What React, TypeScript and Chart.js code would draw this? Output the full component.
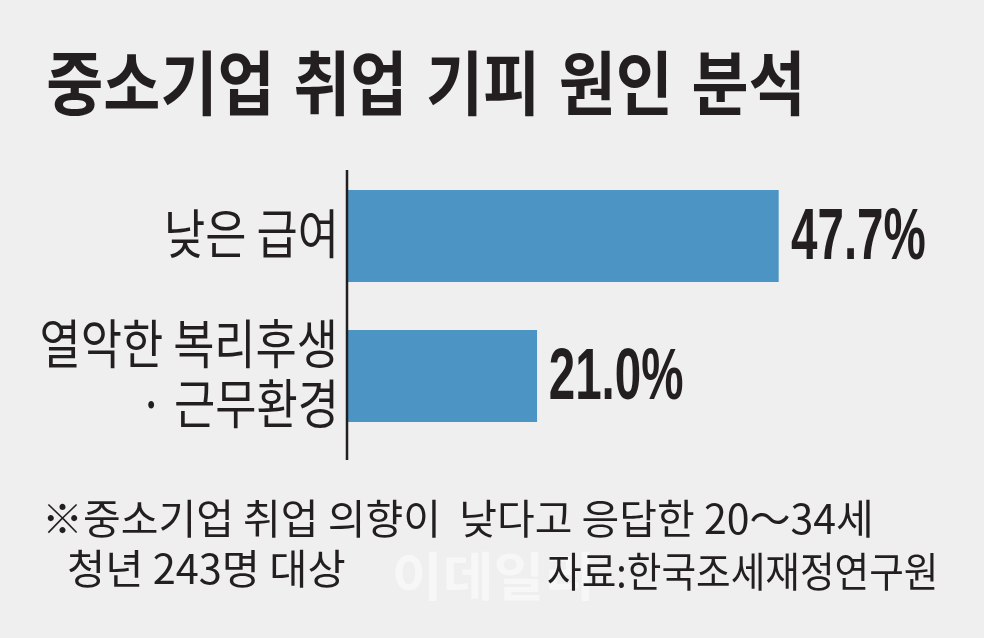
import { useEffect, useRef } from 'react';
import { Chart, registerables } from 'chart.js';

Chart.register(...registerables);

const TITLE = '중소기업 취업 기피 원인 분석';
const categories: (string | string[])[] = ['낮은 급여', ['열악한 복리후생', '· 근무환경']];
const shares = [47.7, 21.0];
const NOTE_LINE_1 = '※중소기업 취업 의향이  낮다고 응답한 20～34세';
const NOTE_LINE_2 = '청년 243명 대상';
const SOURCE = '자료:한국조세재정연구원';
const WATERMARK = '이데일리';

const INK = '#231f20';
const BAR = '#4b94c3';
const BG = '#efefef';
const KR = '"Noto Sans CJK KR", "Noto Sans", sans-serif';

// draws text squeezed horizontally so its ink spans [left, right]
function fitText(
  ctx: CanvasRenderingContext2D,
  text: string,
  left: number,
  right: number,
  y: number
) {
  const m = ctx.measureText(text);
  const ink = m.actualBoundingBoxLeft + m.actualBoundingBoxRight;
  const s = (right - left) / ink;
  ctx.save();
  ctx.translate(left, y);
  ctx.scale(s, 1);
  ctx.fillText(text, m.actualBoundingBoxLeft, 0);
  ctx.restore();
  return s;
}

const decorPlugin = {
  id: 'decor',
  beforeDraw(chart: Chart) {
    const { ctx, width, height } = chart;
    ctx.save();
    ctx.fillStyle = BG;
    ctx.fillRect(0, 0, width, height);
    ctx.restore();
  },
  afterDatasetsDraw(chart: Chart) {
    const { ctx, chartArea } = chart;
    const yScale = chart.scales.y;
    const meta = chart.getDatasetMeta(0);

    ctx.save();
    // axis line
    ctx.strokeStyle = INK;
    ctx.lineWidth = 2.5;
    ctx.beginPath();
    ctx.moveTo(chartArea.left, chartArea.top + 4);
    ctx.lineTo(chartArea.left, chartArea.bottom + 14);
    ctx.stroke();

    ctx.fillStyle = INK;
    ctx.textBaseline = 'middle';
    ctx.textAlign = 'left';

    // title
    ctx.font = `bold 70px ${KR}`;
    (ctx as any).wordSpacing = '5px';
    fitText(ctx, TITLE, 48, 800, 83);
    (ctx as any).wordSpacing = '0px';

    // category labels
    ctx.font = `53px ${KR}`;
    const ref = ctx.measureText('열악한 복리후생');
    const s = 292 / (ref.actualBoundingBoxLeft + ref.actualBoundingBoxRight);
    categories.forEach((cat, i) => {
      const lines = Array.isArray(cat) ? cat : [cat];
      const cy = yScale.getPixelForValue(i) - 2;
      lines.forEach((line, j) => {
        const ly = cy + (j - (lines.length - 1) / 2) * 60;
        const m = ctx.measureText(line);
        ctx.save();
        ctx.translate(chartArea.left - 13, ly);
        ctx.scale(s, 1);
        ctx.fillText(line, -m.actualBoundingBoxRight, 0);
        ctx.restore();
      });
    });

    // value labels
    ctx.font = 'bold 72px "Liberation Sans", Arial, sans-serif';
    ctx.textBaseline = 'alphabetic';
    meta.data.forEach((bar: any, i: number) => {
      const text = shares[i].toFixed(1) + '%';
      const m = ctx.measureText(text);
      ctx.save();
      ctx.translate(bar.x + 13, bar.y + 23);
      ctx.scale(0.66, 1);
      ctx.fillText(text, m.actualBoundingBoxLeft, 0);
      ctx.restore();
    });

    // footnotes
    ctx.textBaseline = 'middle';
    ctx.font = `41px ${KR}`;
    fitText(ctx, NOTE_LINE_1, 47, 870, 518);
    fitText(ctx, NOTE_LINE_2, 69, 345, 568);

    ctx.font = `bold 52px ${KR}`;
    ctx.fillStyle = 'rgba(255,255,255,0.5)';
    fitText(ctx, WATERMARK, 395, 590, 576);

    ctx.fillStyle = INK;
    ctx.font = `41px ${KR}`;
    fitText(ctx, SOURCE, 548, 935, 571);
    ctx.restore();
  },
};

function CauseChart() {
  const canvasRef = useRef<HTMLCanvasElement>(null);

  useEffect(() => {
    if (!canvasRef.current) return;
    const chart = new Chart(canvasRef.current, {
      type: 'bar',
      data: {
        labels: categories,
        datasets: [
          {
            data: shares,
            backgroundColor: BAR,
            borderWidth: 0,
            categoryPercentage: 1,
            barPercentage: 92 / 140,
          },
        ],
      },
      options: {
        indexAxis: 'y',
        responsive: false,
        animation: false,
        devicePixelRatio: 1,
        layout: { padding: { left: 347, right: 94, top: 166, bottom: 192 } },
        scales: {
          x: { display: false, min: 0, max: 60 },
          y: { display: false },
        },
        plugins: {
          legend: { display: false },
          tooltip: { enabled: false },
        },
      },
      plugins: [decorPlugin],
    });
    return () => chart.destroy();
  }, []);

  return <canvas ref={canvasRef} width={984} height={638} style={{ width: 984, height: 638, display: 'block' }} />;
}

export default function App() {
  return (
    <div style={{ position: 'absolute', left: 0, top: 0, width: 984, height: 638, background: BG }}>
      <CauseChart />
    </div>
  );
}
